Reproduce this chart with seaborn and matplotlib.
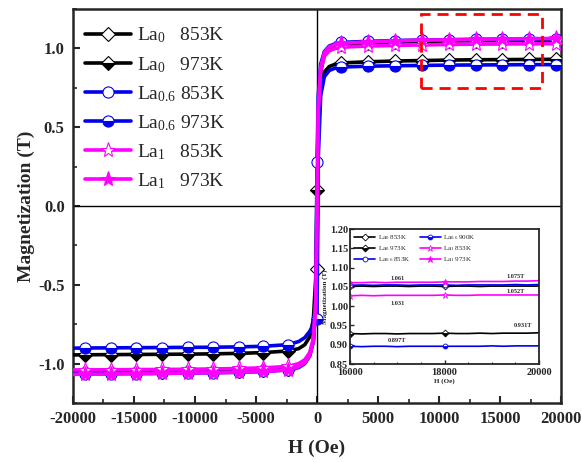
import matplotlib
matplotlib.use("Agg")
import matplotlib.pyplot as plt
import matplotlib.patches as mpatches
from matplotlib.ticker import MultipleLocator, FormatStrFormatter
import seaborn as sns
import pandas as pd

# ---------------- data ----------------
H_main = [-20000, -19000, -16900, -14800, -12700, -10600, -8500, -6400, -4400, -2400,
          -1500, -1000, -600, -300, -100, 0, 100, 300, 600, 1000, 1500,
          2000, 4200, 6400, 8600, 10800, 13000, 15200, 17400, 19600, 20000]

m_la0_853 = [-1.056, -1.055, -1.054, -1.053, -1.052, -1.050, -1.048, -1.046, -1.043, -1.035,
             -1.020, -0.995, -0.950, -0.860, -0.650, -0.400, 0.450, 0.850, 0.960, 1.000, 1.015,
             1.025, 1.035, 1.040, 1.044, 1.047, 1.049, 1.050, 1.051, 1.052, 1.052]
m_la0_973 = [-0.945, -0.944, -0.943, -0.942, -0.941, -0.940, -0.938, -0.935, -0.930, -0.920,
             -0.905, -0.880, -0.830, -0.720, -0.450, 0.100, 0.520, 0.760, 0.850, 0.885, 0.900,
             0.908, 0.915, 0.920, 0.923, 0.926, 0.928, 0.929, 0.930, 0.931, 0.931]
m_la06_853 = [-1.066, -1.065, -1.064, -1.063, -1.062, -1.060, -1.058, -1.055, -1.050, -1.040,
              -1.025, -1.000, -0.950, -0.850, -0.550, 0.280, 0.700, 0.900, 0.980, 1.015, 1.030,
              1.038, 1.045, 1.050, 1.053, 1.055, 1.057, 1.059, 1.060, 1.061, 1.061]
m_la06_973 = [-0.902, -0.901, -0.900, -0.899, -0.898, -0.897, -0.896, -0.894, -0.890, -0.880,
              -0.860, -0.835, -0.795, -0.755, -0.735, -0.720, 0.300, 0.700, 0.820, 0.860, 0.875,
              0.882, 0.887, 0.890, 0.892, 0.894, 0.895, 0.896, 0.897, 0.897, 0.897]
m_la1_853 = [-1.040, -1.040, -1.039, -1.038, -1.037, -1.036, -1.034, -1.031, -1.027, -1.018,
             -1.000, -0.975, -0.930, -0.840, -0.600, -0.050, 0.600, 0.860, 0.950, 0.985, 1.000,
             1.008, 1.015, 1.019, 1.022, 1.025, 1.027, 1.028, 1.029, 1.030, 1.031]
m_la1_973 = [-1.068, -1.067, -1.066, -1.064, -1.062, -1.060, -1.058, -1.055, -1.050, -1.040,
             -1.020, -0.995, -0.950, -0.860, -0.620, 0.000, 0.620, 0.880, 0.975, 1.010, 1.025,
             1.032, 1.042, 1.048, 1.052, 1.055, 1.058, 1.060, 1.062, 1.063, 1.064]

H_inset = [16000, 16250, 16500, 16750, 17000, 17250, 17500, 17750, 18000,
           18250, 18500, 18750, 19000, 19250, 19500, 19750, 20000]
i_la0_853 = [1.051, 1.052, 1.051, 1.052, 1.052, 1.051, 1.052, 1.052, 1.051,
             1.052, 1.052, 1.051, 1.052, 1.052, 1.052, 1.052, 1.052]
i_la0_973 = [0.929, 0.928, 0.929, 0.929, 0.928, 0.929, 0.929, 0.929, 0.930,
             0.929, 0.929, 0.930, 0.929, 0.930, 0.930, 0.930, 0.931]
i_la06_853 = [1.054, 1.055, 1.054, 1.055, 1.055, 1.054, 1.055, 1.055, 1.055,
              1.054, 1.055, 1.055, 1.055, 1.055, 1.056, 1.055, 1.056]
i_la06_973 = [0.896, 0.895, 0.896, 0.896, 0.895, 0.896, 0.896, 0.896, 0.896,
              0.896, 0.896, 0.896, 0.897, 0.896, 0.897, 0.897, 0.897]
i_la1_853 = [1.027, 1.028, 1.027, 1.028, 1.028, 1.028, 1.028, 1.028, 1.029,
             1.028, 1.028, 1.029, 1.029, 1.029, 1.029, 1.029, 1.029]
i_la1_973 = [1.061, 1.061, 1.062, 1.061, 1.062, 1.062, 1.062, 1.062, 1.063,
             1.063, 1.063, 1.064, 1.064, 1.064, 1.065, 1.065, 1.066]

labels_main = ["La$_0$   853K", "La$_0$   973K", "La$_{0.6}$ 853K",
               "La$_{0.6}$ 973K", "La$_1$   853K", "La$_1$   973K"]
labels_inset = ["La$_0$ 853K", "La$_0$ 973K", "La$_{0.6}$ 853K",
                "La$_{0.6}$ 900K", "La$_1$ 853K", "La$_1$ 973K"]
inset_notes = ["1.061", "1.075T", "1.052T", "1.031", "0.931T", "0.897T"]
inset_note_x = [17000, 19500, 19500, 17000, 19650, 17000]
inset_note_y = [1.071, 1.077, 1.038, 1.006, 0.949, 0.910]

x_ticks = [-20000, -15000, -10000, -5000, 0, 5000, 10000, 15000, 20000]
y_ticks = [-1.0, -0.5, 0.0, 0.5, 1.0]

# ---------------- style ----------------
sns.set_style("ticks")
plt.rcParams["font.family"] = ["Liberation Serif", "DejaVu Serif"]
plt.rcParams["mathtext.fontset"] = "custom"
plt.rcParams["mathtext.rm"] = "Liberation Serif"
plt.rcParams["mathtext.it"] = "Liberation Serif:italic"
plt.rcParams["mathtext.bf"] = "Liberation Serif:bold"
plt.rcParams["axes.unicode_minus"] = False

BLACK = "#000000"
BLUE = "#0000ee"
PINK = "#ff00ff"

series = [
    (m_la0_853, BLACK, "D", "full", "white", BLACK),
    (m_la0_973, BLACK, "D", "bottom", BLACK, BLACK),
    (m_la06_853, BLUE, "o", "full", "white", BLUE),
    (m_la06_973, BLUE, "o", "bottom", BLUE, BLUE),
    (m_la1_853, PINK, "*", "full", "white", PINK),
    (m_la1_973, PINK, "*", "full", PINK, PINK),
]
inset_series = [i_la0_853, i_la0_973, i_la06_853, i_la06_973, i_la1_853, i_la1_973]

fig = plt.figure(figsize=(5.82, 4.62), dpi=100)
ax = fig.add_axes([0.1254, 0.1277, 0.8386, 0.8528])

ax.axhline(0, color="black", lw=1.0, zorder=1)
ax.axvline(0, color="black", lw=1.0, zorder=1)

mark_side = [1, 2, 3, 4, 5, 6, 7, 8, 9, 21, 22, 23, 24, 25, 26, 27, 28, 29]
handles = []
for (m, col, mk, fs, fc, ec), lab in zip(series, labels_main):
    n0 = len(ax.lines)
    mev = mark_side if mk == "*" else sorted(mark_side + [15])
    sns.lineplot(x=H_main, y=m, ax=ax, color=col, lw=2.6, marker=mk,
                 markersize=(11 if mk == "*" else 8 if mk == "o" else 7.5),
                 markevery=mev, fillstyle=fs, markerfacecolor=fc,
                 markerfacecoloralt="white", markeredgecolor=ec,
                 markeredgewidth=0.8, legend=False, sort=False, zorder=3)
    ln = ax.lines[n0]
    ln.set_label(lab)
    handles.append(ln)

ax.add_patch(mpatches.Rectangle((8500, 0.75), 9900, 0.47, fill=False,
                                edgecolor="red", lw=2.0, linestyle=(0, (4, 2.5)),
                                zorder=5))

ax.set_xlim(-20000, 20000)
ax.set_ylim(-1.25, 1.25)
ax.set_xticks(x_ticks)
ax.set_yticks(y_ticks)
ax.xaxis.set_minor_locator(MultipleLocator(2500))
ax.yaxis.set_minor_locator(MultipleLocator(0.25))
ax.yaxis.set_major_formatter(FormatStrFormatter("%.1f"))
ax.tick_params(axis="both", which="major", direction="in", length=5, width=1.5,
               labelsize=12, pad=6)
ax.tick_params(axis="both", which="minor", direction="in", length=3, width=1.2)
for t in ax.get_xticklabels() + ax.get_yticklabels():
    t.set_fontweight("bold")
for s in ax.spines.values():
    s.set_linewidth(1.8)
    s.set_visible(True)
ax.set_xlabel("H (Oe)", fontsize=14, fontweight="bold", labelpad=9)
ax.set_ylabel("Magnetization (T)", fontsize=14, fontweight="bold", labelpad=2)

leg = ax.legend(handles=handles, loc="upper left", bbox_to_anchor=(0.0, 0.987),
                frameon=False, fontsize=14, handlelength=2.4, handletextpad=0.3,
                labelspacing=0.48, borderaxespad=0.3, borderpad=0.3)

# ---------------- inset ----------------
ins = fig.add_axes([0.6014, 0.2121, 0.3247, 0.2922])
ins.set_facecolor("white")
ins_marks = [0, 8]
ins_handles = []
for (m_ins, (m, col, mk, fs, fc, ec)), lab in zip(zip(inset_series, series), labels_inset):
    n0 = len(ins.lines)
    sns.lineplot(x=H_inset, y=m_ins, ax=ins, color=col, lw=1.2, marker=mk,
                 markersize=(5 if mk == "*" else 3.5), markevery=ins_marks,
                 fillstyle=fs, markerfacecolor=fc, markerfacecoloralt="white",
                 markeredgecolor=ec, markeredgewidth=0.6, legend=False, sort=False)
    ln = ins.lines[n0]
    ln.set_label(lab)
    ins_handles.append(ln)

for txt, xx, yy in zip(inset_notes, inset_note_x, inset_note_y):
    ins.text(xx, yy, txt, fontsize=4.5, fontweight="bold", ha="center", va="center")

ins.set_xlim(16000, 20000)
ins.set_ylim(0.85, 1.20)
ins.set_xticks([16000, 18000, 20000])
ins.set_yticks([0.85, 0.90, 0.95, 1.00, 1.05, 1.10, 1.15, 1.20])
ins.yaxis.set_major_formatter(FormatStrFormatter("%.2f"))
ins.xaxis.set_minor_locator(MultipleLocator(500))
ins.tick_params(axis="y", which="major", direction="in", length=3, width=1.0,
                labelsize=7.5, pad=1.5)
ins.tick_params(axis="x", which="major", direction="in", length=3, width=1.0,
                labelsize=7.5, pad=3)
ins.tick_params(axis="both", which="minor", direction="in", length=1.5, width=0.8)
for t in ins.get_xticklabels() + ins.get_yticklabels():
    t.set_fontweight("bold")
for s in ins.spines.values():
    s.set_linewidth(1.3)
ins.set_xlabel("H (Oe)", fontsize=5, fontweight="bold", labelpad=1)
ins.set_ylabel("Magnetization (T)", fontsize=5, fontweight="bold", labelpad=1)
ins.legend(handles=ins_handles, loc="upper left", ncol=2, frameon=False, fontsize=5,
           handlelength=3.0, handletextpad=0.4, columnspacing=1.3, labelspacing=0.3,
           borderaxespad=0.2)

fig.savefig("out.png", dpi=100)
